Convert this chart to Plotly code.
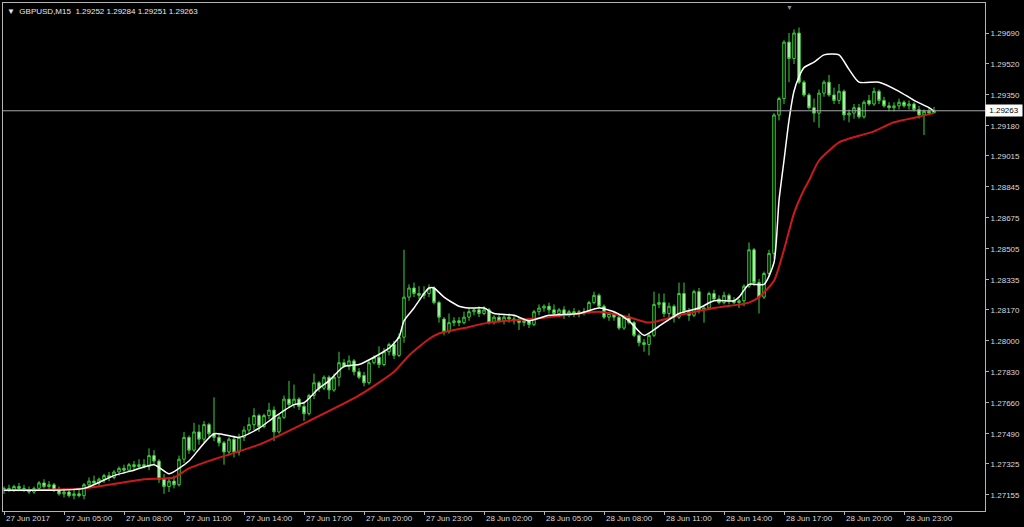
import pandas as pd
import plotly.graph_objects as go

# ---------------- data (GBPUSD, M15) ----------------
opens = [1.2718,1.2719,1.2718,1.2720,1.2719,1.2718,1.2717,1.2719,1.2722,1.2720,
         1.2721,1.2718,1.2716,1.2717,1.2715,1.2716,1.2715,1.2721,1.2723,1.2722,
         1.2724,1.2726,1.2725,1.2728,1.2730,1.2729,1.2732,1.2731,1.2732,1.2731,
         1.2737,1.2734,1.2724,1.2720,1.2723,1.2721,1.2735,1.2747,1.2740,1.2750,
         1.2746,1.2754,1.2749,1.2747,1.2744,1.2739,1.2746,1.2739,1.2747,1.2751,
         1.2754,1.2759,1.2753,1.2759,1.2762,1.2750,1.2758,1.2768,1.2765,1.2768,
         1.2764,1.2760,1.2770,1.2777,1.2774,1.2780,1.2773,1.2780,1.2788,1.2786,
         1.2789,1.2783,1.2781,1.2777,1.2788,1.2791,1.2787,1.2794,1.2798,1.2792,
         1.2802,1.2824,1.2829,1.2826,1.2825,1.2826,1.2829,1.2821,1.2812,1.2805,
         1.2810,1.2811,1.2810,1.2813,1.2816,1.2817,1.2815,1.2817,1.2810,1.2813,
         1.2811,1.2813,1.2812,1.2811,1.2810,1.2811,1.2809,1.2816,1.2818,1.2819,
         1.2817,1.2815,1.2817,1.2814,1.2816,1.2815,1.2816,1.2816,1.2821,1.2825,
         1.2819,1.2813,1.2815,1.2813,1.2807,1.2813,1.2810,1.2803,1.2799,1.2798,
         1.2803,1.2820,1.2821,1.2815,1.2819,1.2813,1.2826,1.2816,1.2814,1.2827,
         1.2817,1.2818,1.2826,1.2823,1.2821,1.2825,1.2822,1.2821,1.2822,1.2830,
         1.2850,1.2832,1.2824,1.2837,1.2848,1.2924,1.2933,1.2964,1.2955,1.2969,
         1.2942,1.2935,1.2928,1.2925,1.2936,1.2942,1.2935,1.2932,1.2937,1.2924,
         1.2925,1.2928,1.2923,1.2932,1.2930,1.2937,1.2932,1.2929,1.2928,1.2929,
         1.2931,1.2929,1.2930,1.2927,1.2924,1.2926,1.29252]
highs = [1.2720,1.2721,1.2721,1.2722,1.2721,1.2720,1.2720,1.2723,1.2724,1.2723,
         1.2722,1.2720,1.2719,1.2718,1.2718,1.2719,1.2722,1.2725,1.2726,1.2725,
         1.2727,1.2728,1.2729,1.2731,1.2732,1.2733,1.2734,1.2735,1.2735,1.2741,
         1.2740,1.2735,1.2727,1.2725,1.2726,1.2737,1.2750,1.2748,1.2755,1.2754,
         1.2756,1.2755,1.2769,1.2749,1.2745,1.2747,1.2748,1.2749,1.2753,1.2758,
         1.2763,1.2760,1.2760,1.2766,1.2764,1.2760,1.2770,1.2778,1.2776,1.2769,
         1.2766,1.2771,1.2782,1.2778,1.2781,1.2781,1.2782,1.2794,1.2790,1.2792,
         1.2790,1.2785,1.2783,1.2789,1.2792,1.2797,1.2796,1.2799,1.2800,1.2804,
         1.2850,1.2831,1.2832,1.2830,1.2830,1.2831,1.2830,1.2822,1.2813,1.2815,
         1.2813,1.2813,1.2816,1.2818,1.2818,1.2819,1.2819,1.2818,1.2814,1.2815,
         1.2814,1.2815,1.2814,1.2813,1.2812,1.2812,1.2817,1.2820,1.2820,1.2821,
         1.2820,1.2818,1.2819,1.2817,1.2818,1.2817,1.2818,1.2822,1.2827,1.2826,
         1.2820,1.2816,1.2816,1.2814,1.2814,1.2815,1.2811,1.2804,1.2801,1.2804,
         1.2827,1.2826,1.2826,1.2821,1.2820,1.2832,1.2832,1.2818,1.2828,1.2829,
         1.2819,1.2827,1.2828,1.2825,1.2827,1.2826,1.2824,1.2823,1.2831,1.2854,
         1.2851,1.2834,1.2838,1.2850,1.2925,1.2934,1.2965,1.2969,1.2971,1.2972,
         1.2943,1.2936,1.2933,1.2938,1.2943,1.2946,1.2939,1.2941,1.2938,1.2927,
         1.2930,1.2930,1.2932,1.2935,1.2939,1.2938,1.2934,1.2931,1.2931,1.2933,
         1.2932,1.2932,1.2931,1.2929,1.2927,1.2928,1.29284]
lows = [1.2716,1.2717,1.2717,1.2718,1.2717,1.2716,1.2716,1.2718,1.2719,1.2718,
        1.2717,1.2715,1.2714,1.2714,1.2713,1.2714,1.2713,1.2719,1.2721,1.2720,
        1.2722,1.2723,1.2724,1.2726,1.2727,1.2728,1.2729,1.2730,1.2730,1.2729,
        1.2732,1.2722,1.2716,1.2717,1.2719,1.2720,1.2733,1.2738,1.2739,1.2743,
        1.2744,1.2747,1.2745,1.2742,1.2732,1.2737,1.2736,1.2737,1.2745,1.2749,
        1.2751,1.2750,1.2752,1.2757,1.2745,1.2749,1.2757,1.2763,1.2763,1.2762,
        1.2756,1.2759,1.2768,1.2772,1.2773,1.2768,1.2772,1.2775,1.2785,1.2784,
        1.2781,1.2779,1.2775,1.2776,1.2787,1.2785,1.2786,1.2792,1.2790,1.2791,
        1.2799,1.2822,1.2824,1.2823,1.2823,1.2824,1.2820,1.2810,1.2803,1.2804,
        1.2808,1.2808,1.2809,1.2811,1.2814,1.2813,1.2814,1.2809,1.2809,1.2810,
        1.2809,1.2810,1.2809,1.2806,1.2808,1.2807,1.2808,1.2814,1.2816,1.2815,
        1.2814,1.2813,1.2812,1.2813,1.2813,1.2813,1.2814,1.2815,1.2820,1.2818,
        1.2812,1.2811,1.2811,1.2806,1.2806,1.2809,1.2802,1.2797,1.2794,1.2792,
        1.2802,1.2818,1.2813,1.2812,1.2810,1.2812,1.2815,1.2811,1.2813,1.2815,
        1.2810,1.2817,1.2822,1.2820,1.2820,1.2820,1.2820,1.2818,1.2819,1.2829,
        1.2830,1.2815,1.2823,1.2835,1.2845,1.2921,1.2930,1.2942,1.2952,1.2941,
        1.2934,1.2927,1.2920,1.2917,1.2934,1.2934,1.2930,1.2930,1.2921,1.2920,
        1.2922,1.2922,1.2922,1.2929,1.2929,1.2930,1.2928,1.2926,1.2926,1.2927,
        1.2928,1.2927,1.2926,1.2922,1.2913,1.2924,1.29251]
closes = [1.2719,1.2718,1.2720,1.2719,1.2718,1.2717,1.2719,1.2722,1.2720,1.2721,
          1.2718,1.2716,1.2717,1.2715,1.2716,1.2715,1.2721,1.2723,1.2722,1.2724,
          1.2726,1.2725,1.2728,1.2730,1.2729,1.2732,1.2731,1.2732,1.2731,1.2737,
          1.2734,1.2724,1.2720,1.2723,1.2721,1.2735,1.2747,1.2740,1.2750,1.2746,
          1.2754,1.2749,1.2747,1.2744,1.2739,1.2746,1.2739,1.2747,1.2751,1.2754,
          1.2759,1.2753,1.2759,1.2762,1.2750,1.2758,1.2768,1.2765,1.2768,1.2764,
          1.2760,1.2770,1.2777,1.2774,1.2780,1.2773,1.2780,1.2788,1.2786,1.2789,
          1.2783,1.2780,1.2777,1.2788,1.2791,1.2787,1.2794,1.2798,1.2792,1.2802,
          1.2824,1.2829,1.2826,1.2825,1.2826,1.2829,1.2821,1.2813,1.2805,1.2810,
          1.2811,1.2810,1.2813,1.2816,1.2817,1.2815,1.2817,1.2810,1.2813,1.2811,
          1.2813,1.2812,1.2811,1.2810,1.2811,1.2809,1.2816,1.2818,1.2819,1.2817,
          1.2815,1.2817,1.2814,1.2816,1.2815,1.2816,1.2816,1.2821,1.2825,1.2819,
          1.2813,1.2815,1.2813,1.2807,1.2813,1.2810,1.2803,1.2799,1.2798,1.2803,
          1.2820,1.2821,1.2815,1.2819,1.2813,1.2826,1.2816,1.2814,1.2827,1.2817,
          1.2818,1.2826,1.2823,1.2821,1.2825,1.2822,1.2821,1.2822,1.2830,1.2850,
          1.2832,1.2824,1.2837,1.2848,1.2924,1.2933,1.2964,1.2955,1.2969,1.2942,
          1.2935,1.2928,1.2925,1.2936,1.2942,1.2935,1.2932,1.2937,1.2924,1.2925,
          1.2928,1.2923,1.2931,1.2930,1.2937,1.2932,1.2929,1.2928,1.2929,1.2931,
          1.2929,1.2930,1.2927,1.2924,1.2926,1.2925,1.29263]

# fast moving average (white), read at selected bars
fast_bar = [0, 16, 22, 26, 30, 33, 35, 37, 42, 47, 51, 54, 58, 60, 63, 65, 68, 71, 74, 77,
            79, 80, 82, 84, 85, 86, 88, 91, 93, 96, 98, 102, 105, 109, 115, 119, 122, 125,
            128, 131, 135, 139, 142, 146, 147, 149, 152, 154, 155, 156, 157, 158, 159, 160,
            162, 164, 167, 169, 171, 175, 179, 182, 185, 186]
fast_val = [1.2718, 1.2719, 1.2726, 1.2729, 1.2732, 1.2727, 1.2730, 1.2734, 1.2749, 1.2747,
            1.2752, 1.2758, 1.2765, 1.2766, 1.2774, 1.2778, 1.2786, 1.2787, 1.2791, 1.2796,
            1.2802, 1.2811, 1.2818, 1.2826, 1.2829, 1.2829, 1.2824, 1.2819, 1.2818, 1.2818,
            1.2815, 1.2814, 1.2811, 1.2814, 1.2815, 1.2818, 1.2816, 1.2811, 1.2803, 1.2808,
            1.2815, 1.2818, 1.2822, 1.2822, 1.2824, 1.2831, 1.2831, 1.2843, 1.2877, 1.2899,
            1.2921, 1.2937, 1.2945, 1.2950, 1.2953, 1.2957, 1.2957, 1.2949, 1.2942, 1.2942,
            1.2937, 1.2932, 1.2928, 1.2926]

# slow moving average (red), read at selected bars
slow_bar = [0, 16, 28, 34, 37, 42, 51, 61, 71, 78, 81, 85, 87, 92, 97, 109, 119, 125, 129,
            135, 142, 149, 151, 154, 156, 158, 160, 161, 163, 167, 169, 174, 178, 183, 186]
slow_val = [1.2718, 1.2719, 1.2724, 1.2725, 1.2730, 1.2735, 1.2743, 1.2756, 1.2770, 1.2783,
            1.2792, 1.2801, 1.2804, 1.2807, 1.2810, 1.2813, 1.2816, 1.2813, 1.2810, 1.2814,
            1.2818, 1.2821, 1.2824, 1.2833, 1.2850, 1.2870, 1.2883, 1.2888, 1.2899, 1.2909,
            1.2911, 1.2915, 1.2920, 1.2923, 1.2925]

price_ticks = [1.27155, 1.27325, 1.27490, 1.27660, 1.27830, 1.28000, 1.28170, 1.28335,
               1.28505, 1.28675, 1.28845, 1.29015, 1.29180, 1.29350, 1.29520, 1.29690]
time_tick_bars = [0, 12, 24, 36, 48, 60, 72, 84, 96, 108, 120, 132, 144, 156, 168, 180]
time_tick_labels = ["27 Jun 2017", "27 Jun 05:00", "27 Jun 08:00", "27 Jun 11:00",
                    "27 Jun 14:00", "27 Jun 17:00", "27 Jun 20:00", "27 Jun 23:00",
                    "28 Jun 02:00", "28 Jun 05:00", "28 Jun 08:00", "28 Jun 11:00",
                    "28 Jun 14:00", "28 Jun 17:00", "28 Jun 20:00", "28 Jun 23:00"]
last_price = 1.29263
header = "GBPUSD,M15  1.29252 1.29284 1.29251 1.29263"

# ---------------- figure ----------------
times = pd.date_range("2017-06-27 02:00", periods=len(closes), freq="15min")
step = pd.Timedelta(minutes=15)

FONT = "Liberation Sans, Arial, sans-serif"
GREEN = "#3ccf3c"

fig = go.Figure()
fig.add_trace(go.Candlestick(
    x=times, open=opens, high=highs, low=lows, close=closes,
    increasing=dict(line=dict(color=GREEN, width=1), fillcolor="#000000"),
    decreasing=dict(line=dict(color=GREEN, width=1), fillcolor="#d4f5cc"),
    whiskerwidth=0, showlegend=False, hoverinfo="skip"))
fig.add_trace(go.Scatter(
    x=[times[b] for b in slow_bar], y=slow_val, mode="lines",
    line=dict(color="#cc1a1a", width=2, shape="spline", smoothing=0.6),
    showlegend=False, hoverinfo="skip"))
fig.add_trace(go.Scatter(
    x=[times[b] for b in fast_bar], y=fast_val, mode="lines",
    line=dict(color="#ffffff", width=1.5, shape="spline", smoothing=0.6),
    showlegend=False, hoverinfo="skip"))

x0 = times[0] - step * 0.2
x1 = times[0] + step * 196.2

fig.update_layout(
    width=1024, height=527,
    margin=dict(l=3, r=39, t=3, b=16),
    paper_bgcolor="#000000", plot_bgcolor="#000000",
    font=dict(family=FONT, size=8, color="#d8d8d8"),
    xaxis=dict(range=[x0, x1], rangeslider=dict(visible=False), showgrid=False,
               zeroline=False, showline=True, mirror=True, linecolor="#b4b4b4",
               linewidth=1, ticks="outside", ticklen=3, tickcolor="#b4b4b4",
               tickvals=[times[b] for b in time_tick_bars], showticklabels=False),
    yaxis=dict(range=[1.270658, 1.298547], side="right", showgrid=False,
               zeroline=False, showline=True, mirror=True, linecolor="#b4b4b4",
               linewidth=1, ticks="outside", ticklen=3, tickcolor="#b4b4b4",
               tickvals=price_ticks, ticktext=[f"{v:.5f}" for v in price_ticks],
               tickfont=dict(family=FONT, size=8, color="#d8d8d8")),
)

# current price line
fig.add_shape(type="line", xref="paper", x0=0, x1=1, yref="y", y0=last_price, y1=last_price,
              line=dict(color="#a8a8a8", width=1))
fig.add_annotation(xref="paper", x=1, xanchor="left", yref="y", y=last_price, yanchor="middle",
                   text=f"{last_price:.5f}", showarrow=False, bgcolor="#ffffff",
                   font=dict(family=FONT, size=8, color="#000000"), borderpad=1, width=34)

# time labels, left-aligned at the tick like the terminal
for b, lab in zip(time_tick_bars, time_tick_labels):
    fig.add_annotation(x=times[b], xref="x", xanchor="left", y=0, yref="paper",
                       yanchor="top", yshift=-1, text=lab, showarrow=False,
                       font=dict(family=FONT, size=8, color="#d8d8d8"))

# header
fig.add_annotation(xref="paper", x=0, xanchor="left", yref="paper", y=1, yanchor="top",
                   xshift=2, yshift=-2, text="▼  " + header, showarrow=False,
                   font=dict(family=FONT, size=8, color="#e8e8e8"))
# small shift marker at top
fig.add_annotation(x=times[0] + step * 157, xref="x", y=1, yref="paper", yanchor="top",
                   text="▼", showarrow=False, font=dict(size=7, color="#8a8a8a"), yshift=1)

fig.write_html("out.html", config={"displayModeBar": False},
               post_script="document.body.style.margin='0';document.body.style.overflow='hidden';"
                           "document.body.style.background='#000';")
